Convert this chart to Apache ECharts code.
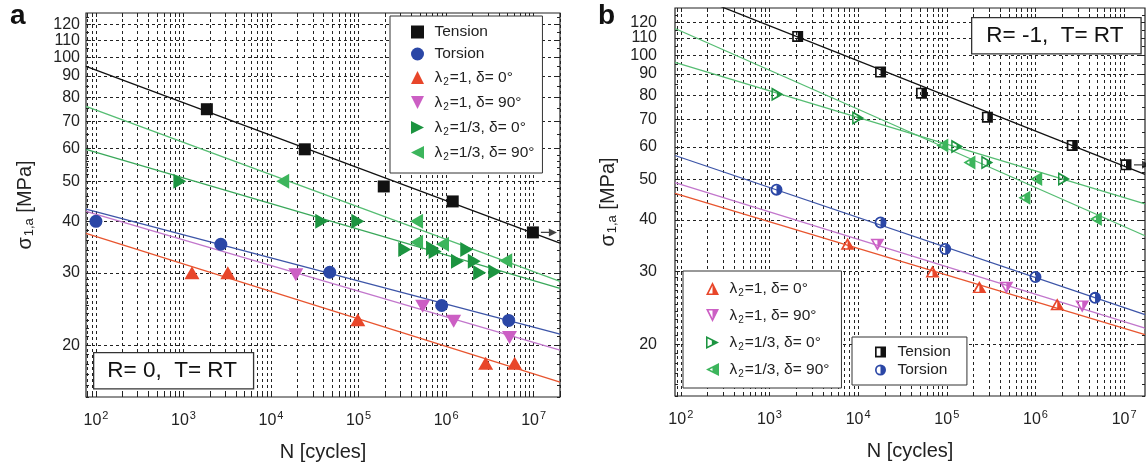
<!DOCTYPE html>
<html><head><meta charset="utf-8">
<script src="https://cdn.jsdelivr.net/npm/echarts@6/dist/echarts.min.js"></script>
<style>
html,body{margin:0;padding:0;background:#fff;width:1146px;height:468px;overflow:hidden}
#a{position:absolute;left:0;top:0;width:573px;height:468px}
#b{position:absolute;left:573px;top:0;width:573px;height:468px}
</style></head>
<body><div id="a"></div><div id="b"></div>
<script>
// ---------------- axis ticks / labels ----------------
const X_LABELS = [1e2, 1e3, 1e4, 1e5, 1e6, 1e7];
const X_TICKS = [80, 90,
  100, 200, 300, 400, 500, 600, 700, 800, 900,
  1e3, 2e3, 3e3, 4e3, 5e3, 6e3, 7e3, 8e3, 9e3,
  1e4, 2e4, 3e4, 4e4, 5e4, 6e4, 7e4, 8e4, 9e4,
  1e5, 2e5, 3e5, 4e5, 5e5, 6e5, 7e5, 8e5, 9e5,
  1e6, 2e6, 3e6, 4e6, 5e6, 6e6, 7e6, 8e6, 9e6,
  1e7, 2e7];
const Y_LABELS = [20, 30, 40, 50, 60, 70, 80, 90, 100, 110, 120];
const Y_MINOR = [15, 16, 17, 18, 19, 21, 22, 23, 24, 25, 26, 27, 28, 29,
  32, 34, 36, 38, 42, 44, 46, 48, 52, 54, 56, 58, 65, 75, 85, 95, 105, 115, 125];
const LEGEND_A = ['Tension', 'Torsion', 'λ2=1, δ= 0°', 'λ2=1, δ= 90°', 'λ2=1/3, δ= 0°', 'λ2=1/3, δ= 90°'];
const LEGEND_B1 = ['λ2=1, δ= 0°', 'λ2=1, δ= 90°', 'λ2=1/3, δ= 0°', 'λ2=1/3, δ= 90°'];
const LEGEND_B2 = ['Tension', 'Torsion'];

// ---------------- panel a (R = 0) : [N, sigma] ----------------
const A_TENSION = [[1850, 74.8], [24300, 59.8], [194000, 48.6], [1190000, 44.7], [9800000, 37.6]];
const A_TORSION = [[100, 40], [2670, 35.2], [46900, 30.1], [890000, 25.0], [5190000, 23.0]];
const A_L1_D0 = [[1250, 30], [3210, 30], [98000, 23.1], [2830000, 18.1], [6070000, 18.1]];
const A_L1_D90 = [[19200, 29.7], [540000, 24.9], [1220000, 22.9], [5300000, 20.9]];
const A_L13_D0 = [[910, 50], [38000, 40], [98000, 40], [337000, 34.2], [700000, 34.4], [750000, 33.8],
  [1720000, 34.2], [1350000, 32.0], [2100000, 32.0], [2420000, 30.0], [3600000, 30.2]];
const A_L13_D90 = [[13600, 50], [460000, 40], [460000, 35.6], [910000, 35.2], [4800000, 32.1]];
const A_FIT_TENSION = [[77, 95], [2e7, 35.4]];
const A_FIT_TORSION = [[77, 42.8], [2e7, 21.3]];
const A_FIT_L1_D0 = [[77, 37.4], [2e7, 16.3]];
const A_FIT_L1_D90 = [[77, 42.3], [2e7, 19.5]];
const A_FIT_L13_D0 = [[77, 59.8], [2e7, 27.5]];
const A_FIT_L13_D90 = [[77, 76], [2e7, 28.6]];

// ---------------- panel b (R = -1) ----------------
const B_TENSION = [[2080, 111], [17900, 91], [51800, 80.9], [287000, 70.8], [2600000, 60.5], [10500000, 54.3]];
const B_TORSION = [[1200, 47.3], [17900, 39.4], [96000, 34.0], [1000000, 29.1], [4700000, 25.9]];
const B_L1_D0 = [[7600, 35], [69000, 30], [233000, 27.5], [1760000, 25.0]];
const B_L1_D90 = [[16500, 34.8], [470000, 27.4], [3370000, 24.7]];
const B_L13_D0 = [[1230, 80.4], [10000, 70.5], [131000, 60.1], [286000, 55], [2100000, 50.2]];
const B_L13_D90 = [[89000, 60.5], [180000, 55], [1020000, 50.2], [750000, 45.2], [4800000, 40.2]];
const B_FIT_TENSION = [[86, 145], [1.72e7, 51.5]];
const B_FIT_TORSION = [[86, 57.2], [1.72e7, 23.6]];
const B_FIT_L1_D0 = [[86, 46.3], [1.72e7, 21.1]];
const B_FIT_L1_D90 = [[86, 49.2], [1.72e7, 21.9]];
const B_FIT_L13_D0 = [[86, 96], [1.72e7, 43.7]];
const B_FIT_L13_D90 = [[86, 116], [1.72e7, 36.6]];

// ---------------- styles ----------------
const FONT = 'Liberation Sans, Arial, sans-serif';
const C = {
  black: '#111111', blue: '#2b47a6', blueL: '#3d55a8', red: '#e8462a', redL: '#e8552f',
  pink: '#cc5fc4', pinkL: '#c276cc', greenD: '#1c9440', greenL: '#3cb55c', gLineD: '#3aa85a', gLineL: '#55bd72'
};
const SYM = {
  square: 'path://M0,0 L10,0 L10,10 L0,10 Z', circle: 'circle',
  up: 'path://M5,0 L10,10 L0,10 Z',
  down: 'path://M0,0 L10,0 L5,10 Z',
  right: 'path://M0,0 L10,5 L0,10 Z',
  left: 'path://M10,0 L10,10 L0,5 Z',
  hSquare: 'path://M0,0 L10,0 L10,10 L0,10 Z M1.5,1.5 L1.5,8.5 L8.5,8.5 L8.5,1.5 Z M5,0 L10,0 L10,10 L5,10 Z',
  hCircle: 'path://M0,5 A5,5 0 1,1 10,5 A5,5 0 1,1 0,5 Z M1.5,5 A3.5,3.5 0 1,0 8.5,5 A3.5,3.5 0 1,0 1.5,5 Z M5,0 A5,5 0 0,1 5,10 Z',
  hUp: 'path://M5,0 L10,10 L0,10 Z M5,2.8 L2,8.8 L8,8.8 Z M5,0 L10,10 L5,10 Z',
  hDown: 'path://M0,0 L10,0 L5,10 Z M2,1.2 L5,7.2 L8,1.2 Z M5,0 L10,0 L5,10 Z',
  hRight: 'path://M0,0 L10,5 L0,10 Z M1.2,2 L1.2,8 L7.2,5 Z M4.5,2.25 L10,5 L4.5,7.75 Z',
  hLeft: 'path://M10,0 L10,10 L0,5 Z M8.8,2 L2.8,5 L8.8,8 Z M5,2.5 L10,0 L10,10 L5,7.5 Z',
  arrow: 'path://M0,4.2 L10,4.2 L10,0 L20,5 L10,10 L10,5.8 L0,5.8 Z'
};

const GRIDLINE = { color: '#222', width: 1, type: [3, 3] };
const TICKLINE = { color: '#222', width: 1 };

function legendFmt(name) {
  if (name.indexOf('λ2') === 0) return '{t|λ}{sub|2}{t|' + name.slice(2) + '}';
  return '{t|' + name + '}';
}
const LEGEND_RICH = {
  t: { fontSize: 15.5, fontFamily: FONT, color: '#222', lineHeight: 18 },
  sub: { fontSize: 10, fontFamily: FONT, color: '#222', padding: [9, 1, 0, 1], lineHeight: 18 }
};

function axes(xmin, xmax, ymin, ymax, yLabelMargin, yNameGap) {
  const xBase = { type: 'log', logBase: 10, min: xmin, max: xmax, gridIndex: 0 };
  const yBase = { type: 'log', logBase: 10, min: ymin, max: ymax, gridIndex: 0 };
  // labels split over two stacked left axes so neighbouring labels are never auto-hidden
  const yLabelStyle = {
    margin: yLabelMargin, hideOverlap: false, showMinLabel: true, showMaxLabel: true,
    formatter: v => String(Math.round(v)), fontSize: 16, fontFamily: FONT, color: '#222'
  };
  return {
    xAxis: [
      Object.assign({}, xBase, {
        position: 'bottom',
        axisLine: { show: false },
        axisTick: { show: true, inside: true, length: 4, customValues: X_TICKS, lineStyle: TICKLINE },
        splitLine: { show: true, lineStyle: GRIDLINE },
        axisLabel: {
          customValues: X_LABELS, margin: 13, showMinLabel: true, showMaxLabel: true,
          formatter: v => '{b|10}{s|' + Math.round(Math.log10(v)) + '}',
          rich: {
            b: { fontSize: 16, fontFamily: FONT, color: '#222' },
            s: { fontSize: 11, fontFamily: FONT, color: '#222', padding: [0, 0, 10, 1] }
          }
        },
        name: 'N [cycles]', nameLocation: 'middle', nameGap: 45,
        nameTextStyle: { fontSize: 20, fontFamily: FONT, color: '#222' }
      }),
      Object.assign({}, xBase, {
        position: 'top',
        axisLine: { show: false },
        axisTick: { show: true, inside: true, length: 4, customValues: X_TICKS, lineStyle: TICKLINE },
        splitLine: { show: false }, axisLabel: { show: false }
      })
    ],
    yAxis: [
      Object.assign({}, yBase, {
        position: 'left',
        axisLine: { show: false },
        axisTick: { show: true, inside: true, length: 5, customValues: Y_LABELS, lineStyle: TICKLINE },
        splitLine: { show: true, lineStyle: GRIDLINE },
        axisLabel: Object.assign({ customValues: Y_LABELS.filter((v, i) => i % 2 === 0) }, yLabelStyle),
        name: '{s|σ}{sub|1,a}{s| [MPa]}', nameLocation: 'middle', nameGap: yNameGap, nameRotate: 90,
        nameTextStyle: {
          rich: {
            s: { fontSize: 20, fontFamily: FONT, color: '#222' },
            sub: { fontSize: 13, fontFamily: FONT, color: '#222', padding: [8, 0, 0, 1] }
          }
        }
      }),
      Object.assign({}, yBase, {
        position: 'left',
        axisLine: { show: false },
        axisTick: { show: true, inside: true, length: 3, customValues: Y_MINOR, lineStyle: TICKLINE },
        splitLine: { show: false },
        axisLabel: Object.assign({ customValues: Y_LABELS.filter((v, i) => i % 2 === 1) }, yLabelStyle)
      }),
      Object.assign({}, yBase, {
        position: 'right',
        axisLine: { show: false },
        axisTick: { show: true, inside: true, length: 5, customValues: Y_LABELS, lineStyle: TICKLINE },
        splitLine: { show: false }, axisLabel: { show: false }
      }),
      Object.assign({}, yBase, {
        position: 'right',
        axisLine: { show: false },
        axisTick: { show: true, inside: true, length: 3, customValues: Y_MINOR, lineStyle: TICKLINE },
        splitLine: { show: false }, axisLabel: { show: false }
      })
    ]
  };
}

function fit(name, data, color) {
  return {
    type: 'line', name: name, data: data, symbol: 'none', clip: true, z: 2, silent: true,
    lineStyle: { color: color, width: 1.3 }, animation: false
  };
}
function pts(name, data, symbol, size, color) {
  return {
    type: 'scatter', name: name, data: data, symbol: symbol, symbolSize: size, z: 4,
    itemStyle: { color: color, opacity: 1 }, animation: false
  };
}
function arrow(data, color) {
  return {
    type: 'scatter', name: 'runout', data: [data[data.length - 1]], symbol: SYM.arrow,
    symbolSize: [16, 8], symbolOffset: [16, 0], z: 3, itemStyle: { color: color }, animation: false, silent: true
  };
}
function box(text, left, top, pad) {
  return {
    type: 'text', left: left, top: top, z: 100,
    style: {
      text: text, fontSize: 22.5, fontFamily: FONT, fill: '#111',
      backgroundColor: '#fff', borderColor: '#333', borderWidth: 1.3, padding: pad
    }
  };
}
function letter(t, left) {
  return { type: 'text', left: left, top: 2, z: 100,
    style: { text: t, fontSize: 28, fontWeight: 'bold', fontFamily: FONT, fill: '#111' } };
}

// ---------------- panel a ----------------
const chartA = echarts.init(document.getElementById('a'), null, { renderer: 'canvas' });
const axA = axes(77, 2e7, 15, 128, 6, 50);
chartA.setOption({
  animation: false,
  backgroundColor: '#fff',
  grid: { left: 86, top: 13, width: 474, height: 384, show: true, borderColor: '#222', borderWidth: 1.2, backgroundColor: 'transparent' },
  xAxis: axA.xAxis, yAxis: axA.yAxis,
  legend: {
    data: LEGEND_A, orient: 'vertical', left: 390, top: 16, width: 157,
    padding: [8, 8, 11, 21], itemGap: 6, itemWidth: 24, itemHeight: 13,
    backgroundColor: '#fff', borderColor: '#333', borderWidth: 1, z: 50, symbolKeepAspect: true,
    formatter: legendFmt, textStyle: { rich: LEGEND_RICH }, selectedMode: false
  },
  graphic: [box('R= 0,  T= RT', 93, 352, [6, 16, 6, 13]), letter('a', 10)],
  series: [
    fit('fitT', A_FIT_TENSION, C.black),
    fit('fitTo', A_FIT_TORSION, C.blueL),
    fit('fit1', A_FIT_L1_D0, C.redL),
    fit('fit2', A_FIT_L1_D90, C.pinkL),
    fit('fit3', A_FIT_L13_D0, C.gLineD),
    fit('fit4', A_FIT_L13_D90, C.gLineL),
    pts(LEGEND_A[0], A_TENSION, SYM.square, 12, C.black),
    pts(LEGEND_A[1], A_TORSION, SYM.circle, 13, C.blue),
    pts(LEGEND_A[2], A_L1_D0, SYM.up, [15, 13], C.red),
    pts(LEGEND_A[3], A_L1_D90, SYM.down, [15, 13], C.pink),
    pts(LEGEND_A[4], A_L13_D0, SYM.right, [13, 15], C.greenD),
    pts(LEGEND_A[5], A_L13_D90, SYM.left, [13, 15], C.greenL),
    arrow(A_TENSION, C.black)
  ]
});

// ---------------- panel b ----------------
const chartB = echarts.init(document.getElementById('b'), null, { renderer: 'canvas' });
const axB = axes(86, 1.72e7, 15, 130, 18, 52);
chartB.setOption({
  animation: false,
  backgroundColor: '#fff',
  grid: { left: 102, top: 8, width: 470, height: 388, show: true, borderColor: '#222', borderWidth: 1.2, backgroundColor: 'transparent' },
  xAxis: axB.xAxis, yAxis: axB.yAxis,
  legend: [{
    data: LEGEND_B1, orient: 'vertical', left: 110, top: 271,
    padding: [8, 12, 9, 23], itemGap: 8, itemWidth: 24, itemHeight: 13,
    backgroundColor: '#fff', borderColor: '#333', borderWidth: 1, z: 50, symbolKeepAspect: true,
    formatter: legendFmt, textStyle: { rich: LEGEND_RICH }, selectedMode: false
  }, {
    data: LEGEND_B2, orient: 'vertical', left: 279, top: 337,
    padding: [7, 16, 7, 23], itemGap: 2, itemWidth: 24, itemHeight: 11,
    backgroundColor: '#fff', borderColor: '#333', borderWidth: 1, z: 50, symbolKeepAspect: true,
    formatter: legendFmt, textStyle: { rich: LEGEND_RICH }, selectedMode: false
  }],
  graphic: [box('R= -1,  T= RT', 398, 17, [6, 17, 6, 14]), letter('b', 25)],
  series: [
    fit('fitT', B_FIT_TENSION, C.black),
    fit('fitTo', B_FIT_TORSION, C.blueL),
    fit('fit1', B_FIT_L1_D0, C.redL),
    fit('fit2', B_FIT_L1_D90, C.pinkL),
    fit('fit3', B_FIT_L13_D0, C.gLineL),
    fit('fit4', B_FIT_L13_D90, C.gLineL),
    pts(LEGEND_B2[0], B_TENSION, SYM.hSquare, 11, C.black),
    pts(LEGEND_B2[1], B_TORSION, SYM.hCircle, 12, C.blue),
    pts(LEGEND_B1[0], B_L1_D0, SYM.hUp, [14, 12], C.red),
    pts(LEGEND_B1[1], B_L1_D90, SYM.hDown, [14, 12], C.pink),
    pts(LEGEND_B1[2], B_L13_D0, SYM.hRight, [12, 14], C.greenD),
    pts(LEGEND_B1[3], B_L13_D90, SYM.hLeft, [12, 14], C.greenL),
    arrow(B_TENSION, C.black)
  ]
});
</script>
</body></html>
